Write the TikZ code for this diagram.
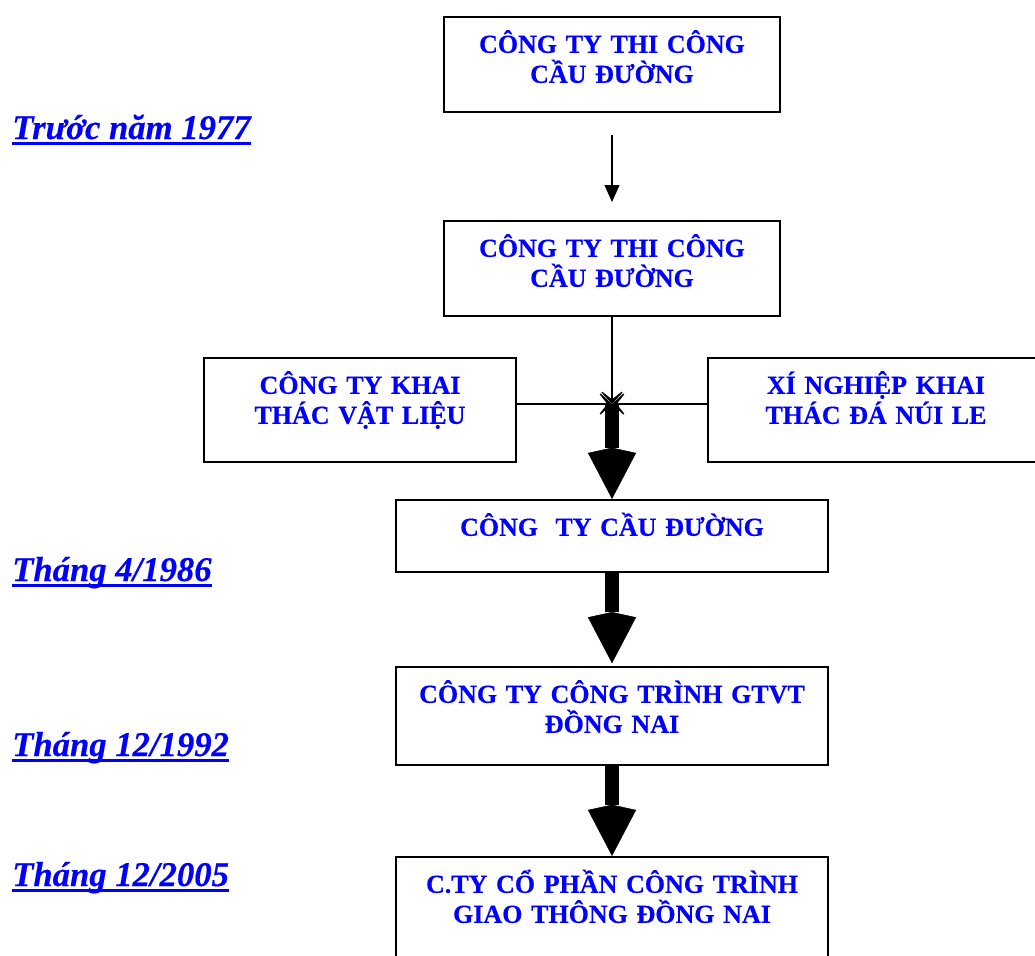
\documentclass[tikz,border=0pt]{standalone}
\usepackage{fontspec}
\setmainfont{Liberation Serif}[BoldFont={Liberation Serif Bold},BoldItalicFont={Liberation Serif Bold Italic},
  BoldFeatures={FakeBold=0.4},BoldItalicFeatures={FakeBold=0.4}]
\usetikzlibrary{arrows.meta,calc}
\definecolor{bleutexte}{RGB}{0,0,255}
\newcommand\souligne[1]{\setbox0\hbox{#1}\rlap{\rule[-4.5pt]{\wd0}{2.2pt}}\box0}
\tikzset{
  boite/.style={draw=black, line width=1.2pt, fill=white, anchor=north, align=center,
    font=\fontsize{19.5}{22.5}\selectfont\bfseries, text=bleutexte,
    inner xsep=3pt, inner ysep=3pt, text height=24pt, text width=#1},
  boite/.default=246pt,
  etiquette/.style={anchor=base west, inner sep=0pt, text=bleutexte,
    font=\fontsize{26}{30}\selectfont\bfseries\itshape},
  fleche/.style={line width=0.9pt, -{Triangle[length=12.75pt,width=11.25pt]}},
  jonction/.style={line width=0.9pt, -{Stealth[length=12.5pt,width=23pt,inset=9pt]}},
  grossefleche/.style={line width=10.5pt,
    -{Stealth[length=34.5pt,width=36pt,inset=-4pt,line width=0.4pt]}},
}
\begin{document}
\begin{tikzpicture}[x=0.75pt,y=-0.75pt]
  \clip (0,0) rectangle (1035,956);
  % boites
  \node[boite, text depth=41.25pt] (ctcd1) at (612,16) {CÔNG TY THI CÔNG\\ CẦU ĐƯỜNG};
  \node[boite, text depth=41.25pt] (ctcd2) at (612,220) {CÔNG TY THI CÔNG\\ CẦU ĐƯỜNG};
  \node[boite=228pt, text depth=48pt] (ktvl) at (360,357) {CÔNG TY KHAI\\ THÁC VẬT LIỆU};
  \node[boite, text depth=48pt] (ktnl) at (876,357) {XÍ NGHIỆP KHAI\\ THÁC ĐÁ NÚI LE};
  \node[boite=318pt, text depth=24pt] (cd) at (612,499) {CÔNG~~TY CẦU ĐƯỜNG};
  \node[boite=318pt, text depth=43.5pt] (gtvt) at (612,666) {CÔNG TY CÔNG TRÌNH GTVT\\ ĐỒNG NAI};
  \node[boite=318pt, text depth=60pt] (cp) at (612,856) {C.TY CỔ PHẦN CÔNG TRÌNH\\ GIAO THÔNG ĐỒNG NAI};
  % dates
  \node[etiquette] (d1977) at (12,139) {\souligne{Trước năm 1977}};
  \node[etiquette] (d1986) at (12,581) {\souligne{Tháng 4/1986}};
  \node[etiquette] (d1992) at (12,756) {\souligne{Tháng 12/1992}};
  \node[etiquette] (d2005) at (12,886) {\souligne{Tháng 12/2005}};
  % fleches
  \coordinate (j) at (612,404);
  \draw[fleche, shorten <=16.5pt, shorten >=13.5pt] (ctcd1) -- (ctcd2);
  \draw[grossefleche] (j) -- (cd);
  \draw[jonction] (ctcd2.south) -- (j);
  \draw[jonction] (ktvl.east |- j) -- (j);
  \draw[jonction] (ktnl.west |- j) -- (j);
  \draw[grossefleche, shorten >=2pt] (cd) -- (gtvt);
  \draw[grossefleche] (gtvt) -- (cp);
\end{tikzpicture}
\end{document}
